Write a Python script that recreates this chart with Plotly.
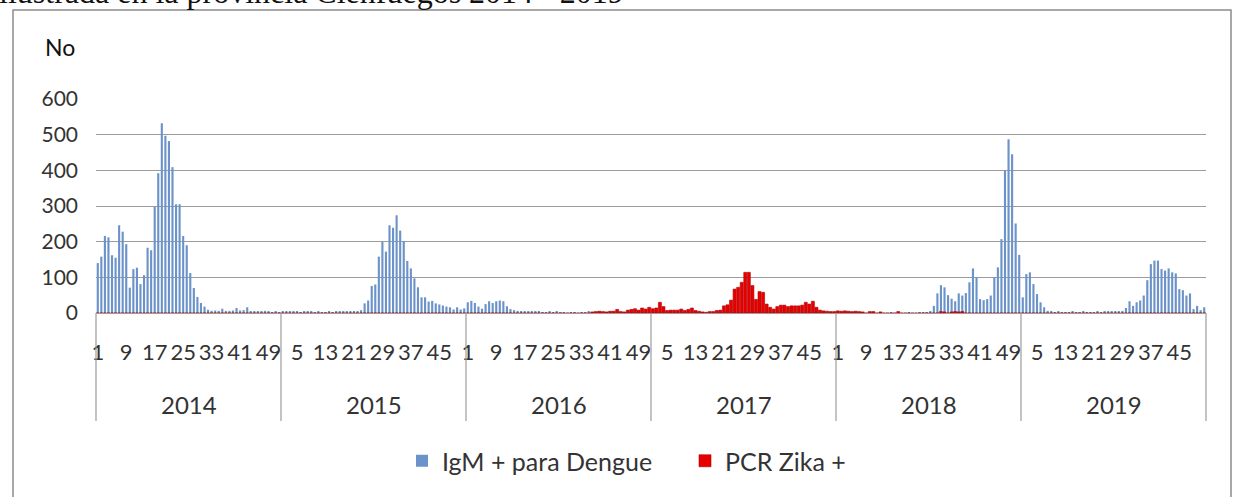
import plotly.graph_objects as go

# ---------------- data (weekly counts, 52 weeks per year) ----------------
years = ["2014", "2015", "2016", "2017", "2018", "2019"]
weeks_per_year = 52

dengue_2014 = [140, 158, 216, 212, 162, 155, 246, 228, 193, 71, 123, 127, 81, 106, 183, 176, 298, 392, 532, 497,
               482, 409, 305, 305, 216, 190, 112, 70, 45, 28, 18, 9, 6, 7, 6, 12, 6, 6, 7, 14,
               7, 8, 16, 5, 4, 3, 4, 6, 5, 2, 4, 2]
dengue_2015 = [4, 3, 5, 4, 3, 2, 4, 5, 3, 2, 3, 2, 1, 3, 2, 3, 4, 3, 4, 5,
               4, 3, 8, 27, 35, 76, 80, 158, 199, 172, 246, 239, 274, 231, 202, 146, 125, 97, 72, 44,
               44, 32, 34, 27, 24, 21, 18, 16, 10, 16, 10, 13]
dengue_2016 = [30, 34, 28, 18, 12, 25, 33, 28, 33, 35, 33, 19, 11, 8, 6, 4, 3, 4, 3, 3,
               3, 2, 1, 3, 2, 3, 1, 1, 0, 1, 1, 0, 1, 1, 3, 1, 0, 1, 0, 0,
               1, 0, 0, 1, 0, 0, 1, 0, 0, 0, 1, 0]
dengue_2017 = [2, 1, 1, 0, 1, 2, 1, 0, 1, 1, 0, 1, 0, 1, 0, 0, 1, 0, 0, 1,
               0, 1, 1, 2, 1, 0, 1, 2, 1, 0, 1, 1, 0, 0, 1, 0, 1, 0, 0, 1,
               0, 0, 1, 0, 0, 1, 0, 0, 1, 0, 0, 1]
dengue_2018 = [1, 2, 1, 0, 1, 1, 2, 1, 0, 1, 1, 0, 1, 0, 0, 1, 0, 1, 0, 0,
               1, 0, 0, 1, 2, 1, 3, 20, 55, 78, 72, 50, 40, 33, 55, 49, 56, 86, 125, 100,
               39, 36, 39, 49, 100, 128, 207, 399, 487, 445, 251, 163]
dengue_2019 = [44, 109, 114, 81, 53, 30, 16, 6, 3, 2, 3, 2, 1, 2, 3, 2, 2, 3, 2, 1,
               2, 3, 2, 4, 3, 4, 3, 5, 6, 14, 33, 20, 30, 35, 49, 92, 137, 147, 147, 123,
               119, 125, 114, 111, 67, 64, 49, 55, 11, 20, 8, 16]

zika_2014 = [0] * 52
zika_2015 = [0] * 52
zika_2016 = [0, 0, 0, 0, 0, 0, 0, 0, 0, 0, 0, 0, 0, 0, 0, 0, 0, 0, 0, 0,
             0, 0, 0, 0, 0, 0, 0, 0, 0, 0, 0, 0, 0, 0, 0, 3, 4, 5, 4, 3,
             5, 5, 10, 4, 3, 8, 10, 12, 8, 14, 11, 16]
zika_2017 = [12, 14, 30, 18, 7, 8, 8, 8, 11, 7, 10, 14, 7, 5, 3, 2, 4, 4, 7, 8,
             20, 23, 36, 67, 72, 86, 114, 114, 77, 38, 60, 58, 25, 16, 11, 18, 22, 22, 18, 20,
             20, 20, 22, 30, 25, 33, 16, 8, 6, 5, 4, 4]
zika_2018 = [6, 5, 6, 5, 4, 5, 4, 3, 0, 4, 4, 0, 3, 0, 0, 0, 0, 4, 0, 0,
             0, 0, 0, 0, 0, 0, 0, 0, 0, 4, 3, 0, 3, 4, 3, 4, 0, 0, 0, 0,
             0, 0, 0, 0, 0, 0, 0, 0, 0, 0, 0, 0]
zika_2019 = [0] * 52

series_names = ["IgM + para Dengue", "PCR Zika +"]
y_tick_values = [0, 100, 200, 300, 400, 500, 600]
y_title = "No"
caption = "ilustrada en la provincia Cienfuegos 2014 - 2019"

# ---------------- build series ----------------
dengue = dengue_2014 + dengue_2015 + dengue_2016 + dengue_2017 + dengue_2018 + dengue_2019
zika = zika_2014 + zika_2015 + zika_2016 + zika_2017 + zika_2018 + zika_2019
n = len(dengue)
x_idx = list(range(n))
week_numbers = [w for _ in years for w in range(1, weeks_per_year + 1)]
tickvals = list(range(0, n, 8))
ticktext = [str(week_numbers[i]) for i in tickvals]

FONT = "Lato"
TXT = "#333333"
GRID = "#9c9c9c"

fig = go.Figure()
fig.add_trace(go.Bar(x=x_idx, y=dengue, name=series_names[0], width=0.6,
                     marker=dict(color="#6b93c9", line=dict(width=0))))
fig.add_trace(go.Bar(x=x_idx, y=zika, name=series_names[1], width=0.85,
                     marker=dict(color="#e80000", line=dict(color="#b00000", width=0.6))))

# plot area in pixels: x 96..1206, y 99..313
L, R, T, B = 96, 29, 99, 184
W, H = 1235, 497
pw, ph = W - L - R, H - T - B


def px(xpix):
    return (xpix - L) / pw


def py(ypix):
    return (H - B - ypix) / ph


shapes = []
# outer chart border
shapes.append(dict(type="rect", xref="paper", yref="paper", x0=px(13), x1=px(1231), y0=py(500), y1=py(10),
                   line=dict(color="#8c8c8c", width=1.5), fillcolor="rgba(0,0,0,0)", layer="below"))
# year separators under the axis
for k in range(len(years) + 1):
    xb = (k * weeks_per_year) / n
    shapes.append(dict(type="line", xref="paper", yref="paper", x0=xb, x1=xb, y0=0, y1=py(421),
                       line=dict(color=GRID, width=1.2)))

annotations = []
for k, yr in enumerate(years):
    annotations.append(dict(x=k * weeks_per_year + (weeks_per_year - 1) / 2, xref="x", y=py(404), yref="paper",
                            text=yr, showarrow=False, font=dict(family=FONT, size=24, color=TXT),
                            xanchor="center", yanchor="middle"))
annotations.append(dict(x=px(43), xref="paper", y=py(47), yref="paper", text=y_title, showarrow=False,
                        font=dict(family=FONT, size=23, color="#111111"), xanchor="left", yanchor="middle"))
annotations.append(dict(x=px(-3), xref="paper", y=py(12), yref="paper", text=caption, showarrow=False,
                        font=dict(family="Liberation Serif", size=32, color="#111111"),
                        xanchor="left", yanchor="bottom"))

fig.update_layout(
    width=W, height=H,
    margin=dict(l=L, r=R, t=T, b=B, autoexpand=False),
    paper_bgcolor="white", plot_bgcolor="white",
    barmode="overlay",
    font=dict(family=FONT, size=21, color=TXT),
    showlegend=True,
    legend=dict(orientation="h", x=px(402), xanchor="left", y=py(461), yanchor="middle",
                font=dict(family=FONT, size=25, color=TXT), itemwidth=30, bgcolor="rgba(0,0,0,0)",
                entrywidth=238, entrywidthmode="pixels"),
    shapes=shapes,
    annotations=annotations,
)
fig.update_xaxes(range=[-0.5, n - 0.5], tickmode="array", tickvals=tickvals, ticktext=ticktext,
                 tickangle=0, showgrid=False, zeroline=False, showline=True, linecolor=GRID, linewidth=1.2,
                 ticks="", ticklabelstandoff=19, tickfont=dict(family=FONT, size=22, color=TXT))
fig.update_yaxes(range=[0, 600], tickmode="array", tickvals=y_tick_values, showgrid=True, gridcolor=GRID,
                 gridwidth=1.3, zeroline=False, showline=False, ticks="", ticklabelstandoff=17,
                 tickfont=dict(family=FONT, size=21, color=TXT))

fig.write_html("out.html", config={"displayModeBar": False},
               post_script="document.body.style.margin='0';")
